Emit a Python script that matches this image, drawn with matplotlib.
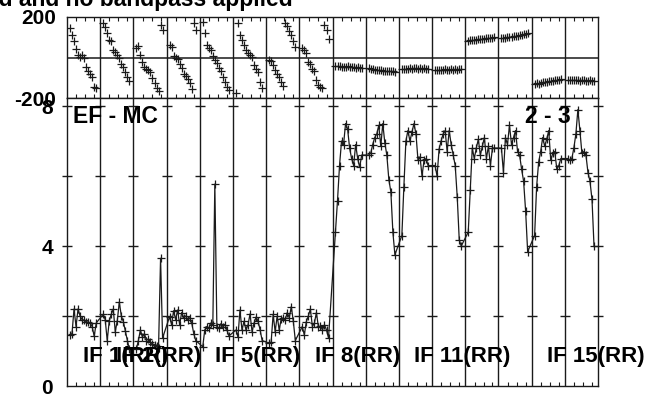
import matplotlib
matplotlib.use('Agg')
import matplotlib.pyplot as plt
import numpy as np

plt.rcParams['font.family'] = ['Liberation Sans', 'DejaVu Sans']
plt.rcParams['axes.unicode_minus'] = False

# ---------------- data ----------------
title_text = 'Phase calibration applied and no bandpass applied'
baseline_left = 'EF - MC'
baseline_right = '2 - 3'
if_labels = ['IF 1(RR)', 'IF 2(RR)', 'IF 5(RR)', 'IF 8(RR)', 'IF 11(RR)', 'IF 15(RR)']
if_label_panels = [0, 1, 4, 7, 10, 14]
n_if = 16
phase_ticks = [-200, 200]
phase_ticklabels = ['-200', '200']
amp_ticks = [0, 4, 8]
amp_ticklabels = ['0', '4', '8']
amp_marks = [2, 4, 6, 8]

# phase (deg) per IF, 14 channels each
phase_if01 = [146, 113, 82, 40, 10, 4, 14, -2, -48, -65, -81, -98, -147, -150]
phase_if02 = [169, 152, 119, 86, 83, 37, 26, 14, -2, -32, -48, -73, -95, -114]
phase_if03 = [45, 55, 10, -22, -45, -55, -62, -72, -100, -125, -150, -165, 162, 135]
phase_if04 = [63, 53, 5, -2, -8, -30, -50, -80, -92, -105, -125, -156, 169, 134]
phase_if05 = [177, 119, 62, 45, 37, 5, -12, -28, -52, -69, -94, -119, -145, -160]
phase_if06 = [-175, 169, 111, 86, 62, 37, 20, 12, 2, -38, -55, -72, -120, -151]
phase_if07 = [-10, -15, -38, -62, -80, -94, -119, -141, 170, 155, 131, 111, 80, 52]
phase_if08 = [45, 37, 22, -20, -30, -55, -69, -111, -136, -144, -151, 160, 136, 91]
phase_if09 = [-42, -44, -41, -46, -45, -47, -44, -48, -47, -49, -50, -48, -52, -53]
phase_if10 = [-53, -56, -58, -60, -62, -61, -64, -66, -65, -67, -68, -66, -69, -70]
phase_if11 = [-57, -58, -55, -56, -54, -55, -53, -54, -55, -53, -56, -54, -55, -56]
phase_if12 = [-62, -61, -63, -60, -61, -59, -62, -60, -59, -61, -58, -60, -59, -58]
phase_if13 = [83, 84, 86, 85, 88, 89, 90, 91, 93, 94, 95, 97, 98, 100]
phase_if14 = [95, 97, 96, 99, 101, 100, 104, 106, 108, 110, 112, 114, 116, 119]
phase_if15 = [-131, -128, -129, -125, -123, -122, -119, -118, -116, -114, -113, -111, -110, -108]
phase_if16 = [-111, -110, -112, -111, -113, -112, -114, -113, -112, -114, -115, -113, -114, -114]

# amplitude per IF, 14 channels each
amp_if01 = [1.45, 1.5, 2.2, 1.7, 2.2, 2.0, 1.9, 1.88, 1.84, 1.82, 1.8, 1.7, 1.42, 1.8]
amp_if02 = [2.05, 1.9, 1.3, 1.85, 2.05, 2.2, 1.55, 1.87, 2.4, 2.0, 1.84, 1.57, 1.3, 1.05]
amp_if03 = [1.05, 1.3, 1.6, 1.4, 1.5, 1.3, 1.35, 1.25, 1.2, 1.18, 1.15, 1.1, 3.65, 1.37]
amp_if04 = [1.98, 1.75, 2.15, 1.9, 2.17, 1.75, 2.1, 1.95, 2.0, 1.9, 1.95, 1.8, 1.5, 1.3]
amp_if05 = [1.12, 1.6, 1.7, 1.65, 1.8, 1.75, 5.77, 1.7, 1.65, 1.78, 1.7, 1.75, 1.6, 1.43]
amp_if06 = [1.6, 1.4, 2.17, 1.6, 1.85, 1.6, 1.75, 2.06, 1.55, 1.8, 1.97, 1.85, 1.6, 1.3]
amp_if07 = [1.22, 1.25, 2.05, 1.55, 2.0, 1.6, 1.92, 1.95, 1.9, 2.1, 1.95, 2.27, 1.85, 1.3]
amp_if08 = [1.7, 1.46, 1.84, 2.0, 2.2, 1.7, 1.8, 2.1, 1.68, 1.72, 1.6, 1.75, 1.6, 1.37]
amp_if09 = [4.4, 5.3, 6.3, 7.0, 6.9, 7.5, 7.35, 6.8, 6.5, 6.3, 6.9, 6.5, 6.25, 6.6]
amp_if10 = [6.6, 6.65, 6.9, 7.1, 7.2, 7.45, 6.85, 7.5, 6.95, 6.6, 5.9, 5.55, 4.4, 3.75]
amp_if11 = [4.3, 5.7, 7.0, 7.3, 7.0, 7.25, 7.5, 7.2, 6.45, 6.55, 6.0, 6.45, 6.5, 6.3]
amp_if12 = [6.3, 6.0, 6.77, 7.0, 7.2, 7.3, 6.7, 7.3, 6.9, 6.6, 6.3, 5.4, 4.17, 4.0]
amp_if13 = [4.4, 5.6, 6.8, 6.5, 6.8, 7.05, 6.6, 6.85, 7.1, 6.5, 6.85, 6.3, 6.8, 6.8]
amp_if14 = [6.8, 6.1, 7.1, 6.9, 7.45, 6.9, 7.1, 7.3, 6.7, 6.6, 6.2, 5.85, 5.0, 3.84]
amp_if15 = [4.3, 5.7, 6.4, 6.7, 7.1, 6.85, 7.05, 7.3, 6.45, 6.65, 6.7, 6.2, 6.3, 6.5]
amp_if16 = [6.5, 6.45, 6.5, 6.8, 7.2, 7.9, 7.3, 6.65, 6.7, 6.6, 6.1, 5.85, 5.33, 4.0]

phase_all = [phase_if01, phase_if02, phase_if03, phase_if04, phase_if05, phase_if06,
             phase_if07, phase_if08, phase_if09, phase_if10, phase_if11, phase_if12,
             phase_if13, phase_if14, phase_if15, phase_if16]
amp_all = [amp_if01, amp_if02, amp_if03, amp_if04, amp_if05, amp_if06,
           amp_if07, amp_if08, amp_if09, amp_if10, amp_if11, amp_if12,
           amp_if13, amp_if14, amp_if15, amp_if16]

# channel positions inside each IF panel
def chan_x(i, n):
    return i + 0.09 + np.arange(n) * 0.79 / (n - 1)

xs = np.concatenate([chan_x(i, len(p)) for i, p in enumerate(phase_all)])
ph = np.concatenate(phase_all)
am = np.concatenate(amp_all)

# ---------------- figure ----------------
W, H = 654, 395
fig = plt.figure(figsize=(W / 100, H / 100), dpi=100)
L, R = 67, 598
ax_ph = fig.add_axes([L / W, (H - 98) / H, (R - L) / W, 81 / H])
ax_am = fig.add_axes([L / W, (H - 386) / H, (R - L) / W, 288 / H])

line_col = '#1a1a1a'
frac = (0.28, 0.55, 0.82)
minor_x = [i + f for i in range(n_if) for f in frac]

# phase panel
ax_ph.plot(xs, ph, '+', color='#1a1a1a', ms=5.2, mew=0.9)
ax_ph.axhline(0, color=line_col, lw=1.1)
for b in range(1, n_if):
    ax_ph.axvline(b, color=line_col, lw=1.0)
ax_ph.set_xlim(0, n_if)
ax_ph.set_ylim(-200, 200)
ax_ph.set_xticks(minor_x)
ax_ph.tick_params(axis='x', direction='in', top=True, bottom=True, length=3,
                  width=0.8, labelbottom=False, color=line_col)
ax_ph.set_yticks(phase_ticks)
ax_ph.set_yticklabels(phase_ticklabels, fontsize=15, fontweight='bold')
ax_ph.tick_params(axis='y', length=0, pad=8)
for s in ax_ph.spines.values():
    s.set_color(line_col)
    s.set_linewidth(1.0)

# amplitude panel
ax_am.plot(xs, am, '-', color='#1a1a1a', lw=0.9)
ax_am.plot(xs, am, '+', color='#1a1a1a', ms=6, mew=0.9)
for b in range(1, n_if):
    ax_am.axvline(b, color=line_col, lw=1.0)
bx = [b for b in range(n_if + 1) for _ in amp_marks]
by = [v for _ in range(n_if + 1) for v in amp_marks]
ax_am.plot(bx, by, '_', color=line_col, ms=7.5, mew=1.0, clip_on=False)
ax_am.set_xlim(0, n_if)
ax_am.set_ylim(0, 8.23)
ax_am.set_xticks(minor_x)
ax_am.tick_params(axis='x', direction='in', bottom=True, top=False, length=3,
                  width=0.8, labelbottom=False, color=line_col)
ax_am.set_yticks(amp_ticks)
ax_am.set_yticklabels(amp_ticklabels, fontsize=15, fontweight='bold')
ax_am.tick_params(axis='y', length=0, pad=10)
for s in ax_am.spines.values():
    s.set_color(line_col)
    s.set_linewidth(1.0)

for lab, p in zip(if_labels, if_label_panels):
    ax_am.text(p + 0.47, 0.83, lab, ha='left', va='center', fontsize=16,
               fontweight='bold', color='black')
ax_am.text(0.18, 7.69, baseline_left, ha='left', va='center', fontsize=16.5,
           fontweight='bold', color='black')
ax_am.text(13.8, 7.71, baseline_right, ha='left', va='center', fontsize=16.5,
           fontweight='bold', color='black')

fig.text(293 / W, (H - 6) / H, title_text, ha='right', va='baseline',
         fontsize=16.5, fontweight='bold', color='black')

fig.savefig('out.png', dpi=100)
